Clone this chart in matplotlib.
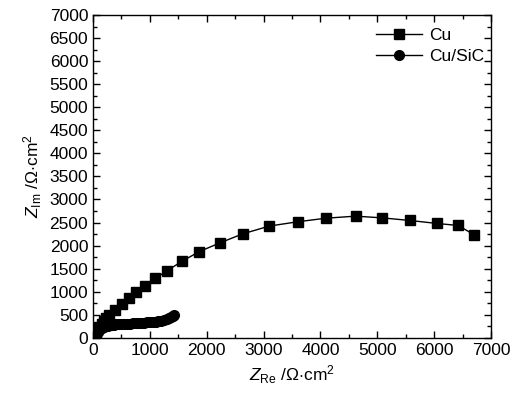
import numpy as np
import matplotlib
matplotlib.use("Agg")
import matplotlib.pyplot as plt
from matplotlib.ticker import MultipleLocator

# ---- data ----
cu_re = [20, 45, 75, 110, 150, 195, 235, 276, 382, 505, 628, 756, 915, 1096, 1307,
         1565, 1870, 2234, 2633, 3101, 3600, 4098, 4620, 5088, 5580, 6055, 6425, 6706]
cu_im = [30, 90, 160, 230, 300, 370, 430, 493, 602, 733, 863, 993, 1130, 1289, 1457,
         1659, 1870, 2059, 2254, 2423, 2516, 2594, 2638, 2601, 2544, 2479, 2436, 2232]

sic_re = [15, 25, 35, 45, 55, 65, 80, 95, 110, 130, 150, 175, 200, 230, 260, 295, 330,
          370, 410, 455, 500, 550, 600, 650, 700, 750, 800, 850, 900, 950, 1000, 1050,
          1100, 1150, 1200, 1250, 1300, 1340, 1380, 1410, 1430]
sic_im = [10, 30, 50, 70, 90, 110, 135, 155, 175, 195, 212, 228, 242, 255, 265, 274, 281,
          287, 292, 296, 299, 302, 305, 308, 311, 314, 318, 322, 327, 332, 338, 345,
          352, 362, 373, 386, 405, 425, 448, 470, 490]

plt.rcParams['font.family'] = ['Liberation Sans', 'DejaVu Sans']
plt.rcParams['mathtext.fontset'] = 'custom'
plt.rcParams['mathtext.rm'] = 'Liberation Sans'
plt.rcParams['mathtext.it'] = 'Liberation Sans:italic'

fig = plt.figure(figsize=(5.13, 3.96), dpi=100)
ax = fig.add_axes([0.1813, 0.147, 0.7757, 0.815])

ax.plot(cu_re, cu_im, '-s', color='black', lw=1.0, ms=7, label='Cu')
ax.plot(sic_re, sic_im, '-o', color='black', lw=1.0, ms=7, label='Cu/SiC')

ax.set_xlim(0, 7000)
ax.set_ylim(0, 7000)
ax.xaxis.set_major_locator(MultipleLocator(1000))
ax.xaxis.set_minor_locator(MultipleLocator(500))
ax.yaxis.set_major_locator(MultipleLocator(500))
ax.yaxis.set_minor_locator(MultipleLocator(250))
ax.tick_params(which='both', direction='in', top=True, right=True, labelsize=12.5, width=1)
ax.tick_params(which='major', length=5)
ax.tick_params(which='minor', length=3)
for s in ax.spines.values():
    s.set_linewidth(1.0)

ax.set_xlabel(r'$\mathit{Z}_{\mathrm{Re}}$ /$\Omega$$\cdot$cm$^2$', fontsize=12.5, labelpad=4)
ax.set_ylabel(r'$\mathit{Z}_{\mathrm{Im}}$ /$\Omega$$\cdot$cm$^2$', fontsize=12.5, labelpad=4)

ax.legend(loc='upper right', frameon=False, fontsize=12.5, handlelength=2.65,
          borderaxespad=0.0, labelspacing=0.36, handletextpad=0.4,
          bbox_to_anchor=(1.0, 0.982))

fig.savefig('out.png', dpi=100)
